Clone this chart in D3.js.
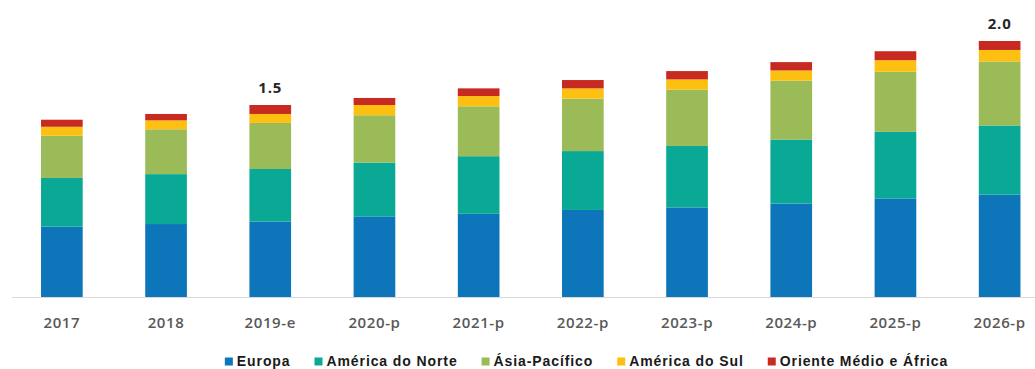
<!DOCTYPE html>
<html>
<head>
<meta charset="utf-8">
<script src="https://cdn.jsdelivr.net/npm/d3@7"></script>
<style>
  html, body { margin: 0; padding: 0; background: #fff; }
  svg { display: block; }
</style>
</head>
<body>
<svg id="chart" width="1035" height="369"></svg>
<script>
// Categories (years; e = estimate, p = projection)
const categories = ["2017", "2018", "2019-e", "2020-p", "2021-p", "2022-p", "2023-p", "2024-p", "2025-p", "2026-p"];

// Regional values per year
const europa        = [0.55, 0.57, 0.59, 0.63, 0.65, 0.68, 0.70, 0.73, 0.77, 0.80];
const americaNorte  = [0.38, 0.39, 0.41, 0.42, 0.45, 0.46, 0.48, 0.50, 0.52, 0.54];
const asiaPacifico  = [0.33, 0.35, 0.36, 0.37, 0.39, 0.41, 0.44, 0.46, 0.47, 0.50];
const americaSul    = [0.07, 0.07, 0.07, 0.08, 0.08, 0.08, 0.08, 0.08, 0.09, 0.09];
const orienteAfrica = [0.055, 0.05, 0.07, 0.055, 0.06, 0.065, 0.065, 0.065, 0.07, 0.07];

const seriesNames  = ["Europa", "América do Norte", "Ásia-Pacífico", "América do Sul", "Oriente Médio e África"];
const seriesValues = [europa, americaNorte, asiaPacifico, americaSul, orienteAfrica];
const seriesColors = ["#0D76BA", "#0AA996", "#9BBB59", "#FDC010", "#C62A20"];

// Years whose total is written above the bar
const labeledCategories = ["2019-e", "2026-p"];

const svg = d3.select("#chart");

// Rows for the stack layout
const rows = categories.map((c, i) => {
  const r = { category: c };
  seriesNames.forEach((s, k) => { r[s] = seriesValues[k][i]; });
  return r;
});
const stacked = d3.stack().keys(seriesNames)(rows);

const x = d3.scaleBand()
  .domain(categories)
  .range([-21.5, 1083])
  .paddingInner(0.6)
  .paddingOuter(0.6);

const y = d3.scaleLinear()
  .domain([0, 2])
  .range([297, 41]);

const color = d3.scaleOrdinal().domain(seriesNames).range(seriesColors);

// Baseline
svg.append("line")
  .attr("x1", 12).attr("x2", 1035)
  .attr("y1", y(0) + 0.5).attr("y2", y(0) + 0.5)
  .attr("stroke", "#D9D9D9").attr("stroke-width", 1.2);

// Stacked bars
svg.append("g")
  .selectAll("g")
  .data(stacked)
  .join("g")
  .attr("fill", d => color(d.key))
  .selectAll("rect")
  .data(d => d)
  .join("rect")
  .attr("x", d => x(d.data.category))
  .attr("width", x.bandwidth())
  .attr("y", d => y(d[1]))
  .attr("height", d => y(d[0]) - y(d[1]));

// Category axis
const xAxis = svg.append("g")
  .attr("transform", `translate(0,${y(0)})`)
  .call(d3.axisBottom(x).tickSize(0).tickPadding(0));
xAxis.select(".domain").remove();
xAxis.selectAll("text")
  .attr("y", 31)
  .attr("dy", 0)
  .attr("fill", "#595959")
  .style("font-family", "'Open Sans', sans-serif")
  .style("font-weight", "600")
  .style("font-size", "15px")
  .style("letter-spacing", "0.6px");

// Totals above selected bars
const totals = rows.map(r => ({ category: r.category, total: d3.sum(seriesNames, s => r[s]) }));
svg.append("g")
  .selectAll("text")
  .data(totals.filter(t => labeledCategories.includes(t.category)))
  .join("text")
  .attr("x", d => x(d.category) + x.bandwidth() / 2)
  .attr("y", d => y(d.total) - 12)
  .attr("text-anchor", "middle")
  .attr("fill", "#262626")
  .style("font-family", "'Open Sans', sans-serif")
  .style("font-weight", "700")
  .style("font-size", "15px")
  .style("letter-spacing", "0.8px")
  .text(d => d3.format(".1f")(d.total));

// Legend
const legend = svg.append("g").attr("transform", "translate(0,365.5)");
const items = legend.selectAll("g")
  .data(seriesNames)
  .join("g");
items.append("rect")
  .attr("y", -8)
  .attr("width", 8).attr("height", 8)
  .attr("fill", d => color(d));
items.append("text")
  .attr("x", 12)
  .attr("fill", "#1a1a1a")
  .style("font-family", "'Liberation Sans', Arial, sans-serif")
  .style("font-weight", "700")
  .style("font-size", "14px")
  .style("letter-spacing", "0.9px")
  .text(d => d);

const gap = 24;
let cursor = 0;
const offsets = [];
items.each(function () {
  offsets.push(cursor);
  const w = d3.select(this).select("text").node().getComputedTextLength();
  cursor += 12 + w + gap;
});
const totalWidth = cursor - gap;
const startX = 586.5 - totalWidth / 2;
items.attr("transform", (d, i) => `translate(${startX + offsets[i]},0)`);
</script>
</body>
</html>
